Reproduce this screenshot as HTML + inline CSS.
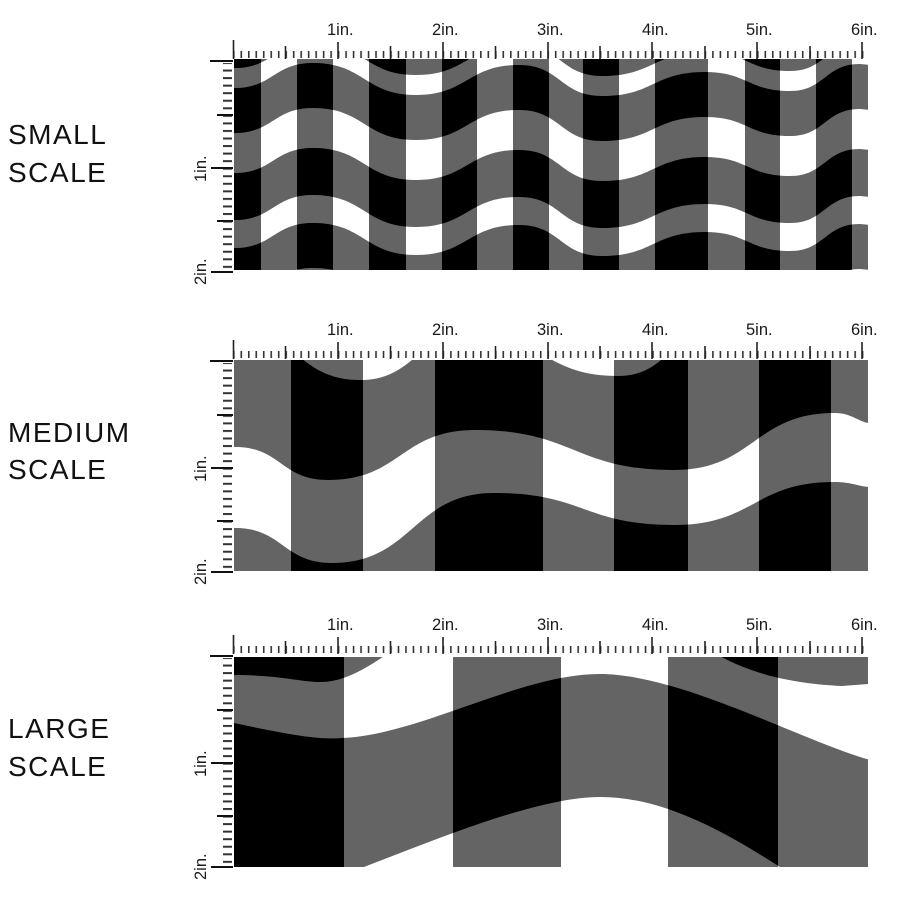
<!DOCTYPE html>
<html><head><meta charset="utf-8"><style>
html,body{margin:0;padding:0;background:#fff;width:900px;height:900px;overflow:hidden;}
svg{display:block;}
.lab{font-family:"Liberation Sans",sans-serif;font-size:28px;fill:#111;letter-spacing:1.5px;}
.tk{font-family:"Liberation Sans",sans-serif;font-size:16.5px;fill:#1a1a1a;}
</style></head><body>
<svg width="900" height="900" viewBox="0 0 900 900" xmlns="http://www.w3.org/2000/svg">
<defs>
<pattern id="ph" patternUnits="userSpaceOnUse" x="233" y="0" width="7.486" height="20"><rect x="0" y="0" width="1.6" height="20" fill="#333"/></pattern>
<pattern id="pv" patternUnits="userSpaceOnUse" x="0" y="62" width="20" height="7.55"><rect x="0" y="0" width="20" height="2" fill="#333"/></pattern>
<g id="ruler">
<rect x="233" y="51" width="635" height="7" fill="url(#ph)"/>
<g stroke="#222" stroke-width="1.6">
<line x1="233.5" y1="40" x2="233.5" y2="59"/>
<line x1="338" y1="42" x2="338" y2="59"/><line x1="443" y1="42" x2="443" y2="59"/><line x1="548" y1="42" x2="548" y2="59"/><line x1="652" y1="42" x2="652" y2="59"/><line x1="757" y1="42" x2="757" y2="59"/><line x1="862" y1="42" x2="862" y2="59"/>
<line x1="285.5" y1="46" x2="285.5" y2="59"/><line x1="390.5" y1="46" x2="390.5" y2="59"/><line x1="495.5" y1="46" x2="495.5" y2="59"/><line x1="600" y1="46" x2="600" y2="59"/><line x1="705" y1="46" x2="705" y2="59"/><line x1="810" y1="46" x2="810" y2="59"/>
</g>
<rect x="223" y="63" width="9" height="208" fill="url(#pv)"/>
<g stroke="#111" stroke-width="2">
<line x1="210" y1="61" x2="233" y2="61"/>
<line x1="211" y1="168" x2="233" y2="168"/>
<line x1="211" y1="272" x2="233" y2="272"/>
<line x1="217" y1="115" x2="233" y2="115"/>
<line x1="217" y1="221" x2="233" y2="221"/>
</g>
<text class="tk" x="327" y="35">1in.</text>
<text class="tk" x="432" y="35">2in.</text>
<text class="tk" x="537" y="35">3in.</text>
<text class="tk" x="642" y="35">4in.</text>
<text class="tk" x="746" y="35">5in.</text>
<text class="tk" x="851" y="35">6in.</text>
<text class="tk" transform="translate(206,182) rotate(-90)">1in.</text>
<text class="tk" transform="translate(206,285) rotate(-90)">2in.</text>
</g>
<path id="ws" d="M 220 0 L 234 0 C 273.5 0 273.5 -25 313 -25 C 364.5 -25 364.5 7 416 7 C 467.5 7 467.5 -23 519 -23 C 560.5 -23 560.5 8 602 8 C 653.5 8 653.5 -16 705 -16 C 747.5 -16 747.5 3 790 3 C 825 3 825 -24 860 -24 L 880 -22 L 880 400 L 220 400 Z"/>
<path id="mU1" d="M 220 330 L 235 330 C 297 330 297 380 360 380 C 415 380 415 335 470 335 C 544 335 544 376 618 376 C 669 376 669 330 720 330 C 795 330 795 320 870 320 L 880 320 L 880 700 L 220 700 Z"/>
<path id="mL1" d="M 220 447 L 235 447 C 281 447 281 480 328 480 C 401 480 401 430 475 430 C 574 430 574 470 674 470 C 754 470 754 413 835 413 C 852 413 860 423 870 423 L 880 423 L 880 700 L 220 700 Z"/>
<path id="mU2" d="M 220 528 L 235 528 C 283 528 283 563 332 563 C 413 563 413 493 494 493 C 584 493 584 525 674 525 C 754 525 754 482 835 482 C 852 482 860 487 870 487 L 880 487 L 880 700 L220 700 Z"/>
<path id="lA" d="M 220 675 L 234 675 C 280 675 300 682 321 682 C 350 682 380 660 420 630 L 680 630 C 720 660 760 682 842 686 L 880 683 L 880 950 L 220 950 Z"/>
<path id="lBu" d="M 220 723 L 234 723 C 290 735 320 740 342 738 C 420 735 520 674 600 674 C 680 674 800 740 870 760 L 880 762 L 880 950 L 220 950 Z"/>
<path id="lBl" d="M 220 905 L 300 890 C 380 865 520 797 600 797 C 680 797 760 850 870 930 L 880 950 L 220 950 Z"/>
<clipPath id="cs"><rect x="234" y="59" width="634" height="211"/></clipPath>
<clipPath id="csd"><rect x="234" y="59" width="27" height="211"/><rect x="297" y="59" width="36" height="211"/><rect x="369" y="59" width="37" height="211"/><rect x="442" y="59" width="35" height="211"/><rect x="513" y="59" width="36" height="211"/><rect x="583" y="59" width="36" height="211"/><rect x="655" y="59" width="53" height="211"/><rect x="745" y="59" width="35" height="211"/><rect x="816" y="59" width="36" height="211"/></clipPath>
<clipPath id="cm"><rect x="234" y="360" width="634" height="211"/></clipPath>
<clipPath id="cmd"><rect x="291" y="360" width="72" height="211"/><rect x="435" y="360" width="108" height="211"/><rect x="614" y="360" width="74" height="211"/><rect x="759" y="360" width="72" height="211"/></clipPath>
<clipPath id="cl"><rect x="234" y="657" width="634" height="210"/></clipPath>
<clipPath id="cld"><rect x="234" y="657" width="110" height="210"/><rect x="453" y="657" width="108" height="210"/><rect x="668" y="657" width="110" height="210"/></clipPath>
</defs>

<text class="lab" x="8" y="144">SMALL</text>
<text class="lab" x="8" y="182">SCALE</text>
<text class="lab" x="8" y="442">MEDIUM</text>
<text class="lab" x="8" y="479">SCALE</text>
<text class="lab" x="8" y="738">LARGE</text>
<text class="lab" x="8" y="776">SCALE</text>

<use href="#ruler"/>
<use href="#ruler" transform="translate(0,300)"/>
<use href="#ruler" transform="translate(0,595)"/>

<g clip-path="url(#cs)">
<rect x="230" y="55" width="650" height="220" fill="#646464"/>
<use href="#ws" transform="translate(0,68)" fill="#fff"/>
<use href="#ws" transform="translate(0,88)" fill="#646464"/>
<use href="#ws" transform="translate(0,133)" fill="#fff"/>
<use href="#ws" transform="translate(0,173)" fill="#646464"/>
<use href="#ws" transform="translate(0,220)" fill="#fff"/>
<use href="#ws" transform="translate(0,248)" fill="#646464"/>
<use href="#ws" transform="translate(0,293)" fill="#fff"/>
</g>
<g clip-path="url(#csd)">
<rect x="230" y="55" width="650" height="220" fill="#000"/>
<use href="#ws" transform="translate(0,68)" fill="#646464"/>
<use href="#ws" transform="translate(0,88)" fill="#000"/>
<use href="#ws" transform="translate(0,133)" fill="#646464"/>
<use href="#ws" transform="translate(0,173)" fill="#000"/>
<use href="#ws" transform="translate(0,220)" fill="#646464"/>
<use href="#ws" transform="translate(0,248)" fill="#000"/>
<use href="#ws" transform="translate(0,293)" fill="#646464"/>
</g>

<g clip-path="url(#cm)">
<rect x="230" y="355" width="650" height="220" fill="#fff"/>
<use href="#mU1" fill="#646464"/>
<use href="#mL1" fill="#fff"/>
<use href="#mU2" fill="#646464"/>
</g>
<g clip-path="url(#cmd)">
<rect x="230" y="355" width="650" height="220" fill="#646464"/>
<use href="#mU1" fill="#000"/>
<use href="#mL1" fill="#646464"/>
<use href="#mU2" fill="#000"/>
</g>

<g clip-path="url(#cl)">
<rect x="230" y="650" width="650" height="220" fill="#646464"/>
<use href="#lA" fill="#fff"/>
<use href="#lBu" fill="#646464"/>
<use href="#lBl" fill="#fff"/>
</g>
<g clip-path="url(#cld)">
<rect x="230" y="650" width="650" height="220" fill="#000"/>
<use href="#lA" fill="#646464"/>
<use href="#lBu" fill="#000"/>
<use href="#lBl" fill="#646464"/>
</g>
</svg>
</body></html>
